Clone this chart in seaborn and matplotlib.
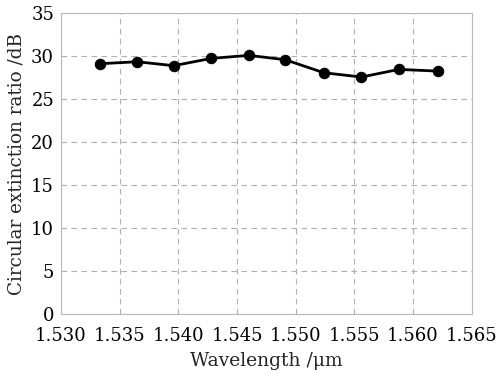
import matplotlib
matplotlib.use("Agg")
import matplotlib.pyplot as plt
import seaborn as sns
import pandas as pd

# values
wavelength = [1.5333, 1.5365, 1.5396, 1.5428, 1.5460, 1.5491, 1.5524, 1.5556, 1.5588, 1.5621]
extinction = [29.15, 29.38, 28.92, 29.77, 30.12, 29.62, 28.10, 27.60, 28.49, 28.29]
x_ticks = [1.530, 1.535, 1.540, 1.545, 1.550, 1.555, 1.560, 1.565]
y_ticks = [0, 5, 10, 15, 20, 25, 30, 35]

df = pd.DataFrame({"wl": wavelength, "cer": extinction})

sns.set_style("white")
plt.rcParams["font.family"] = ["DejaVu Serif"]

fig, ax = plt.subplots(figsize=(4.96, 3.74), dpi=100)
sns.lineplot(data=df, x="wl", y="cer", ax=ax, color="black", linewidth=2,
             marker="o", markersize=7.5, markeredgecolor="black")

ax.set_xlim(1.530, 1.565)
ax.set_ylim(0, 35)
ax.set_xticks(x_ticks)
ax.set_xticklabels([f"{t:.3f}" for t in x_ticks])
ax.set_yticks(y_ticks)
ax.grid(True, linestyle=(0, (5, 4)), color="#b0b0b0", linewidth=0.8)
for s in ax.spines.values():
    s.set_color("#b8b8b8")
ax.tick_params(axis="y", length=0, labelsize=13, pad=5, colors="black")
ax.tick_params(axis="x", length=0, labelsize=13, pad=9, colors="black")
ax.set_xlabel("Wavelength /\u03bcm", fontsize=13.5, labelpad=5)
ax.set_ylabel("Circular extinction ratio /dB", fontsize=13.2, labelpad=4)

fig.subplots_adjust(left=0.123, right=0.951, top=0.964, bottom=0.16)
fig.savefig("out.png", dpi=100)
